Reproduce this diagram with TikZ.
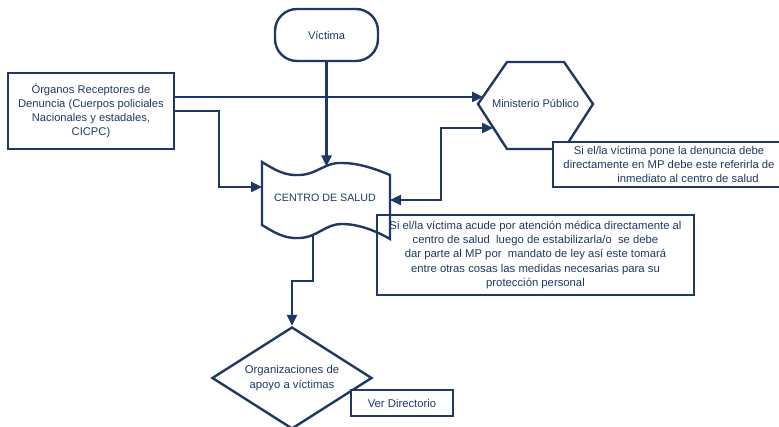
\documentclass[tikz,border=0pt]{standalone}
\usepackage{fontspec}
\setmainfont{Liberation Sans}
\usetikzlibrary{arrows.meta,shapes.geometric}
\definecolor{navy}{RGB}{31,56,100}
\begin{document}
\begin{tikzpicture}[x=1pt,y=-1pt,
  line width=2.4pt, draw=navy, text=navy,
  every node/.style={font=\fontsize{11.1}{14.2}\selectfont, inner sep=0pt, align=center},
  big/.style={font=\fontsize{11.3}{14.2}\selectfont},
  boxst/.style={draw=navy, line width=2.4pt, rectangle},
  arr/.style={draw=navy, line width=2.4pt, -{Triangle[length=11pt,width=10pt]}},
  arrboth/.style={draw=navy, line width=2.4pt, {Triangle[length=11pt,width=10pt]}-{Triangle[length=11pt,width=10pt]}},
  outl/.style={draw=navy, line width=2.4pt, line join=miter}]
\useasboundingbox (0,0) rectangle (779,427);

% Victima
\node[boxst, rounded corners=22pt, minimum width=103pt, minimum height=52pt] (vic) at (326.5,35) {Víctima};

% Organos
\node[boxst, minimum width=166pt, minimum height=76pt, font=\fontsize{11.2}{14}\selectfont] (org) at (91,111)
  {Órganos Receptores de\\Denuncia (Cuerpos policiales\\Nacionales y estadales,\\CICPC)};

% Ministerio Publico hexagon
\draw[outl] (478,104) -- (507,62) -- (564,62) -- (593,104) -- (564,149) -- (507,149) -- cycle;
\node (mp) at (535.5,103) {Ministerio Público};
\coordinate (mpin1) at (483,97);
\coordinate (mpin2) at (493,128);

% Note 1
\node[boxst, big, fill=white, minimum width=232pt, minimum height=45pt] (note1) at (669,164.5)
  {Si el/la víctima pone la denuncia debe\\directamente en MP debe este referirla de\\\hspace*{38pt}inmediato al centro de salud};

% Note 2 (unfilled)
\node[boxst, big, minimum width=317pt, minimum height=80pt] (note2) at (535.5,255)
  {Si el/la víctima acude por atención médica directamente al\\centro de salud\ \ luego de estabilizarla/o\ \ se debe\\dar parte al MP por\ \ mandato de ley así este tomará\\entre otras cosas las medidas necesarias para su\\protección personal};

% Centro de salud
\draw[outl] (262,162) .. controls (275,170) and (285,176) .. (300,175)
  .. controls (318,174) and (325,162) .. (342,163)
  .. controls (360,163) and (378,170) .. (390,175)
  -- (390,239)
  .. controls (378,232) and (360,224) .. (342,224)
  .. controls (325,224) and (318,237) .. (300,238)
  .. controls (285,239) and (275,233) .. (262,225) -- cycle;
\node[font=\fontsize{10.7}{14}\selectfont] (cs) at (325,198) {CENTRO DE SALUD};
\coordinate (cstop) at (326.5,166.5);
\coordinate (csleft) at (262,187);
\coordinate (csright) at (390,200);
\coordinate (csbot) at (313,234.5);

% Diamond
\node[diamond, big, draw=navy, line width=2.4pt, minimum width=160pt, minimum height=102pt, aspect=1.57] (dia) at (292,378)
  {Organizaciones de\\apoyo a víctimas};

% Ver Directorio
\node[boxst, big, fill=white, minimum width=102pt, minimum height=26pt] (ver) at (402,403) {Ver Directorio};

% Connectors
\draw[arr] (vic.south) -- (cstop);
\draw[arr] (org.east |- mpin1) -- (mpin1);
\draw[arr] (org.east) -- ++(44,0) |- (csleft);
\draw[arrboth] (csright) -| (441,128) -- (mpin2);
\draw[arr] (csbot) |- (dia.north |- 0,281) -- (dia.north);
\end{tikzpicture}
\end{document}
